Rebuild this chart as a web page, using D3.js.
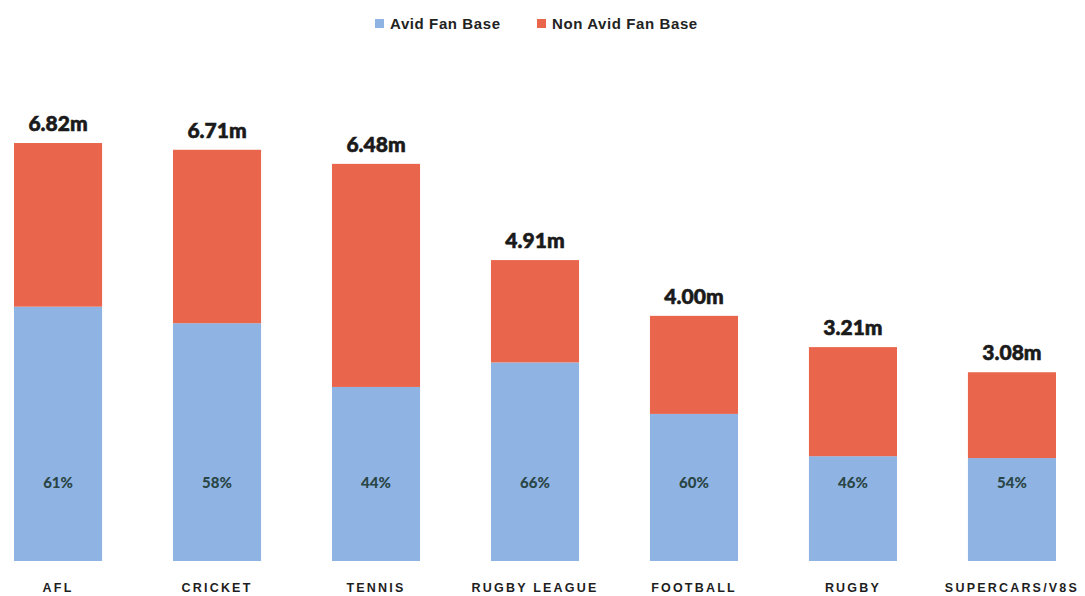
<!DOCTYPE html>
<html>
<head>
<meta charset="utf-8">
<script src="https://cdn.jsdelivr.net/npm/d3@7"></script>
<style>
  html, body { margin: 0; padding: 0; background: #fff; }
  svg { display: block; }
</style>
</head>
<body>
<svg id="chart" width="1085" height="596"></svg>
<script>
// ---- data (millions) ----
const categories = ["AFL", "CRICKET", "TENNIS", "RUGBY LEAGUE", "FOOTBALL", "RUGBY", "SUPERCARS/V8S"];
const avidFans = [4.15, 3.88, 2.84, 3.24, 2.40, 1.71, 1.68];
const nonAvidFans = [2.67, 2.83, 3.64, 1.67, 1.60, 1.78, 1.40];
const totalLabels = ["6.82m", "6.71m", "6.48m", "4.91m", "4.00m", "3.21m", "3.08m"];
const avidPctLabels = ["61%", "58%", "44%", "66%", "60%", "46%", "54%"];
const seriesNames = ["Avid Fan Base", "Non Avid Fan Base"];
const yTicks = [0, 7];

// ---- layout ----
const W = 1085, H = 596;
const colors = { "Avid Fan Base": "#8fb4e4", "Non Avid Fan Base": "#e9654b" };
const svg = d3.select("#chart");

const rows = categories.map((c, i) => ({
  cat: c, "Avid Fan Base": avidFans[i], "Non Avid Fan Base": nonAvidFans[i], i
}));

const x = d3.scaleBand().domain(categories).range([14, 1056]).paddingInner(0.446).paddingOuter(0);
const y = d3.scaleLinear().domain(d3.extent(yTicks)).range([561, 132]);

const stack = d3.stack().keys(seriesNames);
const layers = stack(rows);

svg.append("g").selectAll("g").data(layers).join("g")
  .attr("fill", d => colors[d.key])
  .selectAll("rect").data(d => d).join("rect")
  .attr("x", d => x(d.data.cat))
  .attr("width", x.bandwidth())
  .attr("y", d => y(d[1]))
  .attr("height", d => y(d[0]) - y(d[1]));

// total labels
const topLayer = layers[layers.length - 1];
svg.append("g").selectAll("text").data(topLayer).join("text")
  .attr("x", d => x(d.data.cat) + x.bandwidth() / 2)
  .attr("y", d => y(d[1]) - 12)
  .attr("text-anchor", "middle")
  .attr("font-family", "Lato, 'Open Sans', sans-serif")
  .attr("font-weight", 900)
  .attr("font-size", 21)
  .attr("fill", "#1a1a1a")
  .attr("stroke", "#1a1a1a")
  .attr("stroke-width", 0.6)
  .text((d, i) => totalLabels[i]);

// percent labels inside avid bars
svg.append("g").selectAll("text").data(rows).join("text")
  .attr("x", d => x(d.cat) + x.bandwidth() / 2)
  .attr("y", y(1.27))
  .attr("dy", "0.35em")
  .attr("text-anchor", "middle")
  .attr("font-family", "Lato, 'Open Sans', sans-serif")
  .attr("font-weight", 900)
  .attr("font-size", 15)
  .attr("fill", "#2a4545")
  .text((d, i) => avidPctLabels[i]);

// category axis
const xAxis = d3.axisBottom(x).tickSize(0).tickPadding(0);
const gx = svg.append("g").attr("transform", `translate(0,${y(0)})`).call(xAxis);
gx.select(".domain").remove();
gx.selectAll("text")
  .attr("y", 27)
  .attr("dy", "0.35em")
  .attr("font-family", "'Liberation Sans', Arial, sans-serif")
  .attr("font-weight", "bold")
  .attr("font-size", 12.5)
  .attr("letter-spacing", "2.2px")
  .attr("fill", "#1e1e1e");

// legend
const legend = svg.append("g");
const legendItems = [
  { name: seriesNames[0], x: 375 },
  { name: seriesNames[1], x: 537 }
];
const li = legend.selectAll("g").data(legendItems).join("g")
  .attr("transform", d => `translate(${d.x},24)`);
li.append("rect").attr("x", 0).attr("y", -5).attr("width", 9).attr("height", 9)
  .attr("fill", d => colors[d.name]);
li.append("text").attr("x", 15).attr("dy", "0.35em")
  .attr("font-family", "'Liberation Sans', Arial, sans-serif")
  .attr("font-weight", "bold")
  .attr("font-size", 15)
  .attr("letter-spacing", "0.6px")
  .attr("fill", "#222")
  .text(d => d.name);
</script>
</body>
</html>
